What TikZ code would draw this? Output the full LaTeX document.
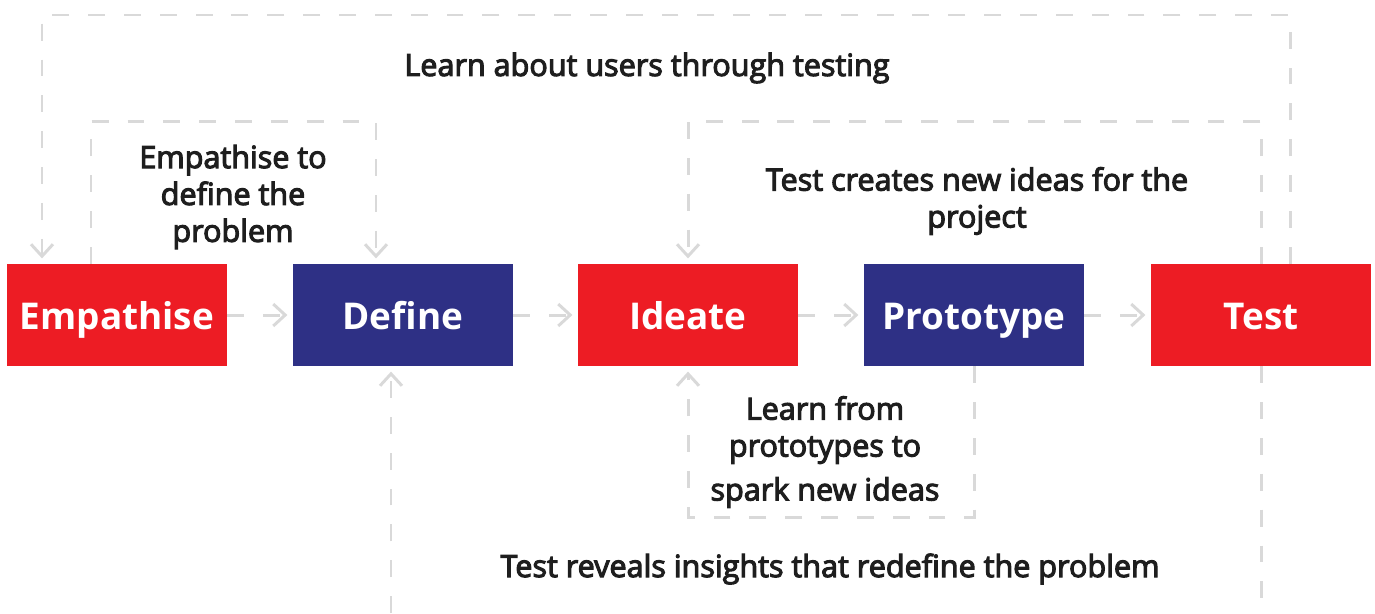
\documentclass[tikz,border=0pt]{standalone}
\usepackage{fontspec}
\setmainfont{Open Sans}
\newfontfamily\semifont{Open Sans}[FakeBold=3.5]
\usetikzlibrary{arrows.meta}
\definecolor{stepred}{HTML}{ED1C24}
\definecolor{stepblue}{HTML}{2E3085}
\definecolor{linegray}{HTML}{D9D9D9}
\definecolor{textdark}{HTML}{1E1E1E}

\begin{document}
\begin{tikzpicture}[x=0.02cm, y=-0.02cm,
        stage/.style={rectangle, minimum width=4.4cm, minimum height=2.04cm, inner sep=0pt, text height=17pt, text depth=0pt, text=white, font=\fontsize{21}{25}\selectfont\bfseries},
        note/.style={align=center, text=textdark, font=\fontsize{17.4}{21}\selectfont\semifont},
        flow/.style={draw=linegray, line width=1.7pt, dash pattern=on 9.6pt off 10.8pt, -{Straight Barb[length=6.8pt, width=12.5pt]}, shorten >=3pt},
        plain/.style={draw=linegray, line width=1.7pt, dash pattern=on 9.6pt off 10.8pt}
    ]
        \useasboundingbox (0,0) rectangle (1375,613);

        % Stages
        \node (emp) [stage, fill=stepred] at (117,315) {Empathise};
        \node (def) [stage, fill=stepblue] at (403,315) {Define};
        \node (ide) [stage, fill=stepred] at (688,315) {Ideate};
        \node (pro) [stage, fill=stepblue] at (974,315) {Prototype};
        \node (tst) [stage, fill=stepred] at (1261,315) {Test};

        % Labels
        \node (learnusers) [note] at (647,68) {Learn about users through testing};
        \node (emptodef) [note] at (233,197) {Empathise to\\define the\\problem};
        \node (testideas) [note] at (977,201) {Test creates new ideas for the\\project};
        \node (learnproto) [note] at (825,452) {Learn from\\prototypes to\\[4pt]spark new ideas};
        \node (testreveals) [note] at (830,569) {Test reveals insights that redefine the problem};

        % Corners of the loops
        \coordinate (outerR) at (1290,15);
        \coordinate (outerL) at (42,15);
        \coordinate (innerL) at (91,121);
        \coordinate (innerR) at (376,121);
        \coordinate (ideaR) at (1261,121);
        \coordinate (ideaL) at (688,121);
        \coordinate (protoR) at (974,517);
        \coordinate (protoL) at (688,517);
        \coordinate (bottomR) at (1261,613);
        \coordinate (bottomL) at (391,613);

        % Main flow
        \draw[flow] (emp) -- (def);
        \draw[flow] (def) -- (ide);
        \draw[flow] (ide) -- (pro);
        \draw[flow] (pro) -- (tst);

        % Feedback loops
        \draw[flow] (tst.north -| outerR) -- (outerR) -- (outerL) -- (emp.north -| outerL);
        \draw[flow] (emp.north -| innerL) -- (innerL) -- (innerR) -- (def.north -| innerR);
        \draw[flow] (tst.north -| ideaR) -- (ideaR) -- (ideaL) -- (ide.north -| ideaL);
        \draw[flow] (pro.south -| protoR) -- (protoR) -- (protoL) -- (ide.south -| protoL);
        \draw[plain] (tst.south -| bottomR) -- (bottomR);
        \draw[flow] (bottomL) -- (def.south -| bottomL);

    \end{tikzpicture}
\end{document}
